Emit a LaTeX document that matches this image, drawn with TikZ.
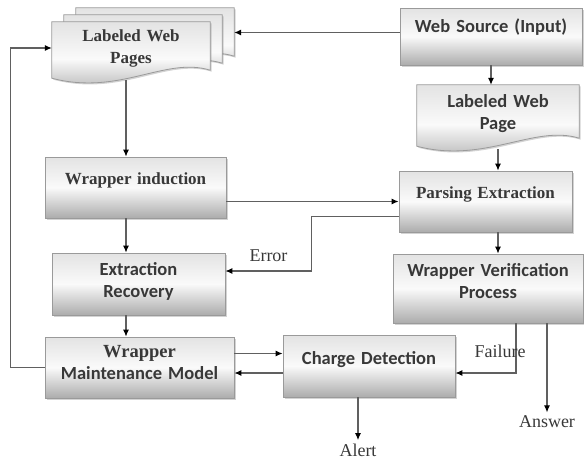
\documentclass[tikz,border=0pt]{standalone}
\usepackage{fontspec}
\setmainfont{Liberation Serif}
\newfontfamily\calib{Carlito}
\usetikzlibrary{arrows.meta,positioning,calc,shadows,backgrounds}
\definecolor{txtgris}{HTML}{383838}
\definecolor{bord}{HTML}{9A9A9A}
\definecolor{fleche}{HTML}{606060}
\tikzset{
  shadefill/.style={draw=bord, line width=0.8pt, top color=gray!22, bottom color=gray!65, middle color=gray!4,
                    drop shadow={opacity=0.35, shadow xshift=1.5pt, shadow yshift=-1.5pt}},
  box/.style args={#1/#2}{rectangle, shadefill, text=txtgris, align=center, inner sep=0pt,
                          text width=#1pt, minimum height=#2pt},
  doc/.style args={#1/#2}{rectangle, text=txtgris, align=center, inner sep=0pt,
                          text width=#1pt, minimum height=#2pt},
  sans/.style={font=\calib\bfseries\fontsize{18.5}{22}\selectfont},
  serif/.style={font=\bfseries\fontsize{17}{22}\selectfont},
  lift/.style={execute at end node={\rule[-#1]{0pt}{#1}}},
  lbl/.style={text=txtgris, font=\fontsize{18}{20}\selectfont},
  arr/.style={-{Latex[length=7pt,width=6pt,color=black]}, line width=1.1pt, draw=fleche},
}
\newcommand{\docshape}[2]{%
  \shade[shadefill] ($(#1.north west)+#2$) -- ($(#1.north east)+#2$) -- ($(#1.south east)+(0,-4)+#2$)
    .. controls ($(#1.south east)+(-45,-18)+#2$) and ($(#1.south west)+(68,22)+#2$) .. ($(#1.south west)+(0,4)+#2$) -- cycle;}

\begin{document}
\begin{tikzpicture}[x=1pt, y=-1pt]
\useasboundingbox (0,0) rectangle (584,459);
\node[box=182/57, sans, lift=22pt] (ws) at (491,36.5) {Web Source (Input)};
\node[doc=158/52, serif] (lwps) at (131,48) {Labeled Web\\Pages};
\node[doc=162/57, sans] (lwp) at (498,113.5) {Labeled Web\\Page};
\node[box=181/61, serif, lift=18pt] (wi) at (135.5,187.5) {Wrapper induction};
\node[box=173/61, serif, lift=18pt] (pe) at (485.5,201.5) {Parsing Extraction};
\node[box=173/62, sans, lift=8pt] (er) at (138.5,284) {Extraction\\Recovery};
\node[box=190/69, sans, lift=16pt] (wvp) at (488,288.5) {Wrapper Verification\\Process};
\node[box=189/61, sans, lift=10pt] (wmm) at (139.5,367.5) {{\rmfamily Wrapper}\\Maintenance Model};
\node[box=172/62, sans, lift=16pt] (cd) at (369,366) {Charge Detection};
\node[lbl] (alert) at (358,450) {Alert};
\node[lbl] (ans) at (547,422) {Answer};
\coordinate (stack) at ($(lwps.east)+(24,0)$);
\coordinate (col) at (126,0);
\coordinate (haut) at ([yshift=14pt]wmm.east);
\coordinate (bas) at ([yshift=-7pt]cd.west);
\coordinate (entree) at ([yshift=4pt]ws.west);

\begin{pgfonlayer}{background}
\docshape{lwps}{(24,-14)}
\docshape{lwps}{(12,-7)}
\docshape{lwps}{(0,0)}
\docshape{lwp}{(0,0)}
\end{pgfonlayer}

\draw[arr] (entree) -- (entree -| stack);
\draw[arr] (ws) -- (ws |- lwp.north);
\draw[arr] (col |- lwps.south) ++(0,6) -- (col |- wi.north);
\draw[arr] (col |- wi.south) -- (col |- er.north);
\draw[arr] (col |- er.south) -- (col |- wmm.north);
\draw[arr] (wi.east |- pe.west) -- (pe.west);
\draw[arr] (lwp.south) ++(0,7) -- (lwp.south |- pe.north);
\draw[arr] (lwp.south |- pe.south) -- (lwp.south |- wvp.north);
\draw[arr] (pe.west) ++(0,15) -- ++(-87,0) |- ([yshift=13pt]er.east) node[lbl, pos=0.75, above=5pt] {Error};
\draw[arr] (wvp.south) ++(28,0) |- (bas -| cd.east) node[lbl, pos=0.28, xshift=-16pt] {Failure};
\draw[arr] (ans |- wvp.south) -- (ans);
\draw[arr] (alert |- cd.south) -- (alert);
\draw[arr] (haut) -- (haut -| cd.west);
\draw[arr] (bas) -- (bas -| wmm.east);
\draw[arr] (wmm.west) -- ++(-34,0) |- (lwps.west);
\end{tikzpicture}
\end{document}
